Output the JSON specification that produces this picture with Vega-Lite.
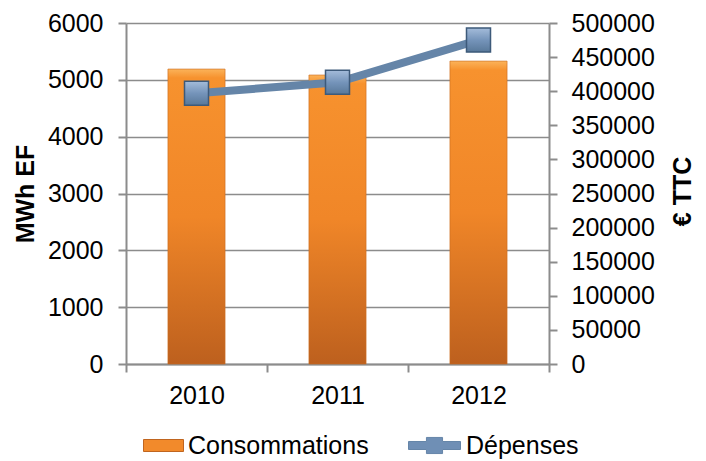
{
  "$schema": "https://vega.github.io/schema/vega-lite/v6.json",
  "width": 423,
  "height": 341,
  "autosize": {"type": "none"},
  "padding": {"left": 126, "top": 23, "right": 157, "bottom": 97},
  "background": "white",
  "config": {
    "view": {"stroke": null},
    "font": "Liberation Sans",
    "axis": {
      "labelFont": "Liberation Sans",
      "labelFontSize": 25,
      "labelColor": "#000000",
      "labelOverlap": false,
      "titleFont": "Liberation Sans",
      "titleFontSize": 25,
      "titleFontWeight": "bold",
      "titleColor": "#000000",
      "domainColor": "#8C8C8C",
      "domainWidth": 2,
      "tickColor": "#8C8C8C",
      "tickWidth": 2,
      "tickSize": 8,
      "gridColor": "#8C8C8C",
      "gridWidth": 1.5
    },
    "legend": {
      "labelFont": "Liberation Sans",
      "labelFontSize": 25,
      "labelColor": "#000000",
      "labelLimit": 0,
      "padding": 0
    }
  },
  "data": {
    "values": [
      {"annee": "2010", "consommations": 5190, "depenses": 397000},
      {"annee": "2011", "consommations": 5085, "depenses": 413000},
      {"annee": "2012", "consommations": 5330, "depenses": 475000}
    ]
  },
  "encoding": {
    "x": {
      "field": "annee",
      "type": "nominal",
      "scale": {"paddingInner": 0, "paddingOuter": 0},
      "axis": {
        "title": null,
        "labelAngle": 0,
        "tickBand": "extent",
        "labelPadding": 11,
        "grid": false
      }
    }
  },
  "layer": [
    {
      "encoding": {
        "y": {
          "field": "consommations",
          "type": "quantitative",
          "scale": {"domain": [0, 6000], "nice": false},
          "axis": {
            "title": "MWh EF",
            "format": "d",
            "values": [0, 1000, 2000, 3000, 4000, 5000, 6000],
            "grid": true,
            "labelPadding": 15,
            "titlePadding": 9
          }
        }
      },
      "layer": [
        {
          "mark": {"type": "bar", "width": {"band": 0.405}},
          "encoding": {
            "fill": {
              "datum": "Consommations",
              "type": "nominal",
              "scale": {"domain": ["Consommations"], "range": ["#F28A2B"]},
              "legend": {
                "title": null,
                "orient": "none",
                "legendX": 17,
                "legendY": 402,
                "symbolType": "M-1,-0.3H1V0.3H-1Z",
                "symbolSize": 1600,
                "labelOffset": 4,
                "encode": {
                  "symbols": {
                    "update": {
                      "fill": {"value": "#F28A2B"},
                      "stroke": {"value": "#C0651F"},
                      "strokeWidth": {"value": 1},
                      "opacity": {"value": 1}
                    }
                  }
                }
              }
            }
          }
        },
        {
          "mark": {
            "type": "bar",
            "width": {"band": 0.405},
            "stroke": "#C96D22",
            "strokeWidth": 0.6,
            "fill": {
              "gradient": "linear",
              "x1": 0, "y1": 0, "x2": 0, "y2": 1,
              "stops": [
                {"offset": 0, "color": "#FBB35A"},
                {"offset": 0.03, "color": "#F7922E"},
                {"offset": 0.5, "color": "#F08628"},
                {"offset": 1, "color": "#BD601E"}
              ]
            }
          },
          "encoding": {}
        }
      ]
    },
    {
      "encoding": {
        "y": {
          "field": "depenses",
          "type": "quantitative",
          "scale": {"domain": [0, 500000], "nice": false},
          "axis": {
            "title": "€ TTC",
            "format": "d",
            "orient": "right",
            "titleAngle": 270,
            "titleBaseline": "middle",
            "titleX": 133,
            "titleY": 168,
            "values": [0, 50000, 100000, 150000, 200000, 250000, 300000, 350000, 400000, 450000, 500000],
            "grid": false,
            "labelOverlap": false,
            "labelPadding": 14
          }
        }
      },
      "layer": [
        {
          "mark": {"type": "line", "strokeWidth": 8},
          "encoding": {
            "stroke": {
              "datum": "Dépenses",
              "type": "nominal",
              "scale": {"domain": ["Dépenses"], "range": ["#6585A8"]},
              "legend": {
                "title": null,
                "orient": "none",
                "legendX": 282,
                "legendY": 396,
                "symbolType": "M-1,-0.154L-0.31,-0.154L-0.31,-0.31L0.31,-0.31L0.31,-0.154L1,-0.154L1,0.154L0.31,0.154L0.31,0.31L-0.31,0.31L-0.31,0.154L-1,0.154Z",
                "symbolSize": 2704,
                "labelOffset": 5,
                "encode": {
                  "symbols": {
                    "update": {
                      "fill": {"value": "#6F8FB5"},
                      "stroke": {"value": "#4A6A8E"},
                      "strokeWidth": {"value": 1},
                      "opacity": {"value": 1}
                    }
                  }
                }
              }
            }
          }
        },
        {
          "mark": {
            "type": "point",
            "shape": "square",
            "size": 576,
            "filled": true,
            "opacity": 1,
            "stroke": "#3D5A7A",
            "strokeWidth": 1.5,
            "fill": {
              "gradient": "linear",
              "x1": 0, "y1": 0, "x2": 0, "y2": 1,
              "stops": [
                {"offset": 0, "color": "#A4BCDA"},
                {"offset": 0.5, "color": "#7594BA"},
                {"offset": 1, "color": "#587899"}
              ]
            }
          },
          "encoding": {}
        }
      ]
    }
  ],
  "resolve": {"scale": {"y": "independent"}}
}
